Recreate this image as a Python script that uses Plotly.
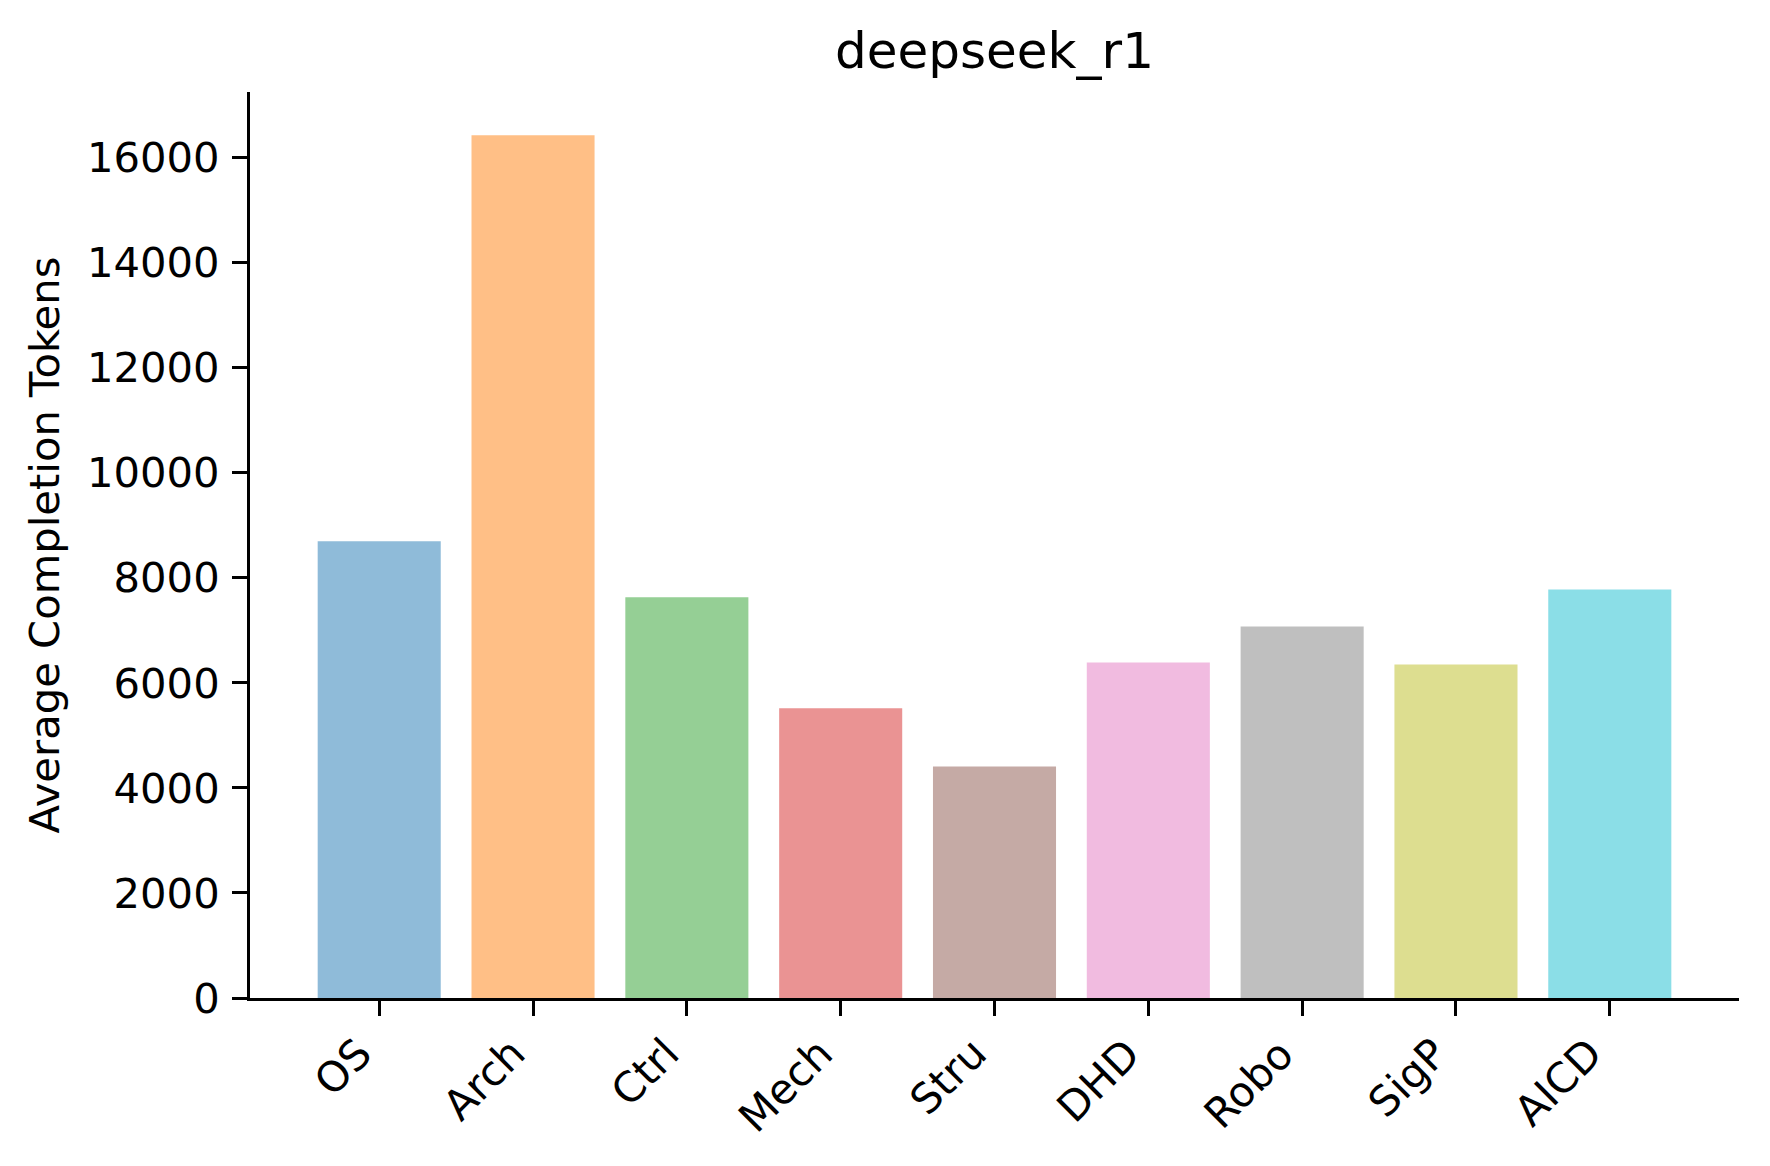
import plotly.graph_objects as go

# ── Data ──────────────────────────────────────────────────────────────────
categories = ["OS", "Arch", "Ctrl", "Mech", "Stru", "DHD", "Robo", "SigP", "AICD"]
avg_tokens = [8695, 16430, 7630, 5515, 4410, 6390, 7075, 6350, 7780]
y_ticks    = [0, 2000, 4000, 6000, 8000, 10000, 12000, 14000, 16000]

# tab10 colours (purple skipped), drawn at alpha 0.5
bar_colors = [
    "rgba(31,119,180,0.5)",
    "rgba(255,127,14,0.5)",
    "rgba(44,160,44,0.5)",
    "rgba(214,39,40,0.5)",
    "rgba(140,86,75,0.5)",
    "rgba(227,119,194,0.5)",
    "rgba(127,127,127,0.5)",
    "rgba(188,189,34,0.5)",
    "rgba(23,190,207,0.5)",
]

FONT = "DejaVu Sans"
TICK_SIZE = 41.7
W, H = 1754, 1150   # page body keeps an 8px margin

xs = list(range(len(categories)))

fig = go.Figure(go.Bar(
    x=xs, y=avg_tokens,
    width=0.8, marker=dict(color=bar_colors, line=dict(width=0)),
))

# rotated category labels, right-aligned to the tick like matplotlib's ha="right"
for i, cat in enumerate(categories):
    fig.add_annotation(
        x=i, y=0, xref="x", yref="y", text=cat, showarrow=False,
        textangle=-45, xanchor="right", yanchor="top", yshift=-28, xshift=4,
        font=dict(family=FONT, size=TICK_SIZE, color="black"),
    )

fig.update_layout(
    width=W, height=H,
    margin=dict(l=242, r=23, t=84, b=160),
    plot_bgcolor="white", paper_bgcolor="white",
    font=dict(family=FONT, color="black", size=TICK_SIZE),
    showlegend=False,
    title=dict(text="deepseek_r1", x=0.5, xref="paper", xanchor="center",
               y=1 - 42 / H, yref="container", yanchor="middle",
               font=dict(family=FONT, size=50, color="black")),
)

fig.update_xaxes(
    range=[-0.84, len(categories) - 1 + 0.84],
    tickmode="array", tickvals=xs, showticklabels=False,
    ticks="outside", ticklen=15, tickwidth=3, tickcolor="black",
    showline=True, linecolor="black", linewidth=3, mirror=False,
    showgrid=False, zeroline=False,
)

fig.update_yaxes(
    range=[0, 16430 * 1.05],
    tickmode="array", tickvals=y_ticks, ticktext=[str(v) for v in y_ticks],
    ticks="outside", ticklen=15, tickwidth=3, tickcolor="black",
    ticklabelstandoff=4,
    showline=True, linecolor="black", linewidth=3, mirror=False,
    showgrid=False, zeroline=False,
    tickfont=dict(family=FONT, size=TICK_SIZE, color="black"),
    title=dict(text="Average Completion Tokens", standoff=15,
               font=dict(family=FONT, size=TICK_SIZE, color="black")),
    automargin=False,
)

fig.write_html("out.html")
